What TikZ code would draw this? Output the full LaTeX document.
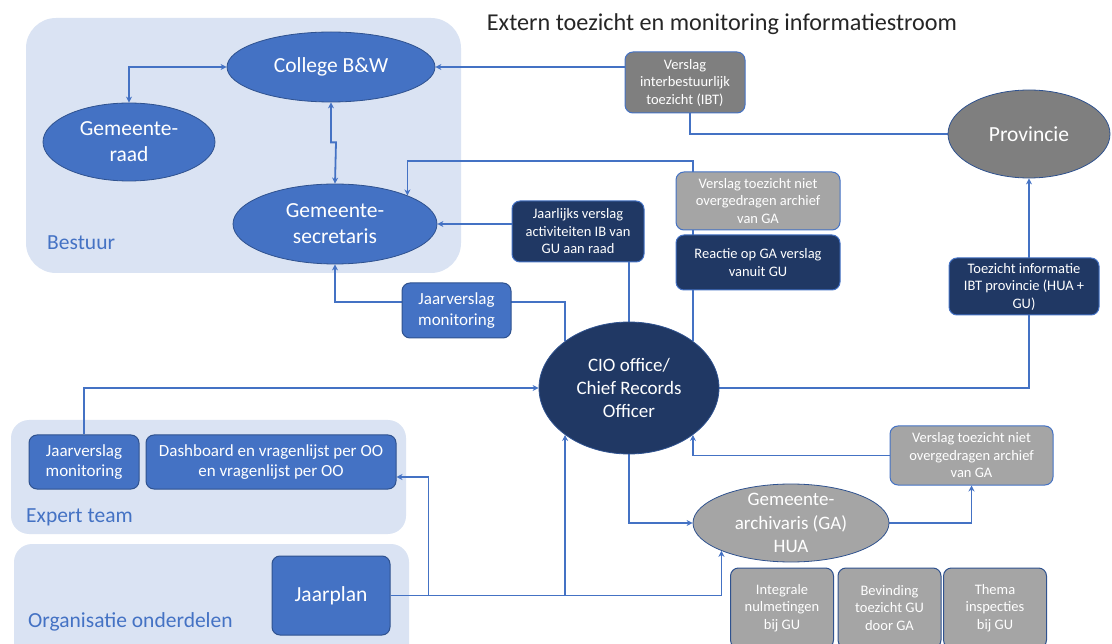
\documentclass[tikz,border=0pt]{standalone}
\usepackage{fontspec}
\setmainfont{Carlito}
\usetikzlibrary{shapes.geometric,arrows.meta}
\definecolor{grpblue}{HTML}{DAE3F3}
\definecolor{midblue}{HTML}{4472C4}
\definecolor{edgeblue}{HTML}{2F528F}
\definecolor{navy}{HTML}{203864}
\definecolor{darkgrey}{HTML}{7F7F7F}
\definecolor{lightgrey}{HTML}{A5A5A5}
\pgfdeclarelayer{bg}
\pgfdeclarelayer{lines}
\pgfsetlayers{bg,lines,main}
\tikzset{
  oval/.style={ellipse,inner sep=0pt,align=center,text=white,draw=edgeblue,line width=0.8pt},
  box/.style={rectangle,rounded corners=8pt,inner sep=2pt,align=center,text=white,line width=1pt},
  bigtxt/.style={font=\fontsize{21.5}{26}\selectfont},
  midtxt/.style={font=\fontsize{19}{23.3}\selectfont},
  boxtxt/.style={font=\fontsize{17}{20.5}\selectfont},
  smalltxt/.style={font=\fontsize{14.5}{17.5}\selectfont},
  link/.style={draw=midblue,line width=1.8pt},
  flow/.style={link,-{Stealth[length=6pt,width=6pt]}},
  twoway/.style={link,{Stealth[length=6pt,width=6pt]}-{Stealth[length=6pt,width=6pt]}},
  group/.style={fill=grpblue},
  grplabel/.style={anchor=west,inner sep=0pt,text=midblue,font=\fontsize{21.5}{26}\selectfont}
}

\begin{document}
\begin{tikzpicture}[x=1pt,y=-1pt]
\useasboundingbox (0,0) rectangle (1112,644);
\clip (0,0) rectangle (1112,644);

\begin{pgfonlayer}{bg}
\fill[group,rounded corners=30pt] (26,18) rectangle (461,273);
\fill[group,rounded corners=18pt] (11,420) rectangle (406,534);
\fill[group,rounded corners=18pt] (14,544) rectangle (409,670);
\end{pgfonlayer}

\node[font=\fontsize{24.2}{29}\selectfont,text=black!85] (title) at (722,24) {Extern toezicht en monitoring informatiestroom};

\node[grplabel] (bestuur) at (47,243) {Bestuur};
\node[grplabel] (expert) at (26,517) {Expert team};
\node[grplabel] (orgdelen) at (28,622) {Organisatie onderdelen};

% bestuur
\node[oval,bigtxt,fill=midblue,minimum width=208pt,minimum height=70pt] (college) at (331,67) {College B\&W};
\node[oval,bigtxt,fill=midblue,minimum width=172pt,minimum height=78pt] (raad) at (129,142) {Gemeente-\\raad};
\node[oval,bigtxt,fill=midblue,minimum width=204pt,minimum height=80pt] (secr) at (335,224) {Gemeente-\\secretaris};

% toezicht
\node[box,smalltxt,fill=darkgrey,draw=midblue,minimum width=120pt,minimum height=61pt] (ibt) at (685,82.5) {Verslag\\interbestuurlijk\\toezicht (IBT)};
\node[oval,bigtxt,fill=darkgrey,minimum width=162pt,minimum height=88pt] (prov) at (1029,134) {Provincie};
\node[box,smalltxt,fill=lightgrey,draw=midblue,minimum width=164pt,minimum height=58pt] (vtnboven) at (758,201) {Verslag toezicht niet\\overgedragen archief\\van GA};
\node[box,smalltxt,fill=navy,draw=midblue,minimum width=164pt,minimum height=55pt] (reactie) at (758,262.5) {Reactie op GA verslag\\vanuit GU};
\node[box,smalltxt,fill=navy,draw=midblue,minimum width=132pt,minimum height=61pt] (jaarlijks) at (578,231.5) {Jaarlijks verslag\\activiteiten IB van\\GU aan raad};
\node[box,smalltxt,fill=navy,draw=midblue,minimum width=150pt,minimum height=57pt] (toezicht) at (1024,286.5) {Toezicht informatie\\IBT provincie (HUA +\\GU)};
\node[box,boxtxt,fill=midblue,draw=edgeblue,minimum width=109pt,minimum height=55pt] (jvmboven) at (456.5,310.5) {Jaarverslag\\monitoring};

% cio en archivaris
\node[oval,midtxt,fill=navy,minimum width=180pt,minimum height=132pt] (cio) at (629,388) {CIO office/\\Chief Records\\Officer};
\node[box,smalltxt,fill=lightgrey,draw=midblue,minimum width=163pt,minimum height=59pt] (vtnonder) at (971.5,455.5) {Verslag toezicht niet\\overgedragen archief\\van GA};
\node[oval,fill=lightgrey,minimum width=196pt,minimum height=78pt,
  label={[midtxt,text=white,align=center]center:Gemeente-\\archivaris (GA)\\HUA}] (ga) at (791,523) {};
\foreach \n/\x/\t in {nulmeting/782/{Integrale\\nulmetingen\\bij GU},
                      bevinding/889.5/{Bevinding\\toezicht GU\\door GA},
                      thema/995/{Thema\\inspecties\\bij GU}}
{
  \node[box,smalltxt,fill=lightgrey,draw=edgeblue,minimum width=103pt,minimum height=80pt] (\n) at (\x,608) {\t};
}

% expert team en organisatie
\node[box,boxtxt,fill=midblue,draw=edgeblue,minimum width=110pt,minimum height=54pt] (jvmonder) at (84,462) {Jaarverslag\\monitoring};
\node[box,boxtxt,fill=midblue,draw=edgeblue,minimum width=250pt,minimum height=54pt] (dash) at (271,462) {Dashboard en vragenlijst per OO\\en vragenlijst per OO};
\node[box,bigtxt,fill=midblue,draw=edgeblue,minimum width=118pt,minimum height=79pt] (jaarplan) at (331,595.5) {Jaarplan};

\coordinate (jvmrij) at (456,302);
\coordinate (bovenrij) at (692,161);

\begin{pgfonlayer}{lines}
\draw[twoway] (college.west) -| (raad.north);
\draw[twoway] (college.south) -- ++(0,40) -- ++(5,0) -- (secr.north);
\draw[flow] (ibt.west |- college.east) -- (college.east);
\draw[link] ([xshift=5pt]ibt.south) |- (prov.west);
\draw[flow] (cio.north east) -- (cio.north east |- bovenrij) -| (secr.north east);
\draw[flow] (cio.north) |- (secr.east);
\draw[flow] (cio.north west) |- (jvmrij) -| (secr.south);
\draw[flow] (cio.east) -| (prov.south);
\draw[flow] (vtnonder.west) -| (cio.south east);
\draw[flow] (cio.south) |- (ga.west);
\draw[flow] (ga.east) -| (vtnonder.south);
\draw[flow] (jvmonder.north) |- (cio.west);
\draw[flow] (jaarplan.east) -| (cio.south west);
\draw[flow] (jaarplan.east) -| (ga.south west);
\draw[flow] (jaarplan.east) -- ++(38,0) |- ([yshift=-15pt]dash.east);
\end{pgfonlayer}
\end{tikzpicture}
\end{document}
